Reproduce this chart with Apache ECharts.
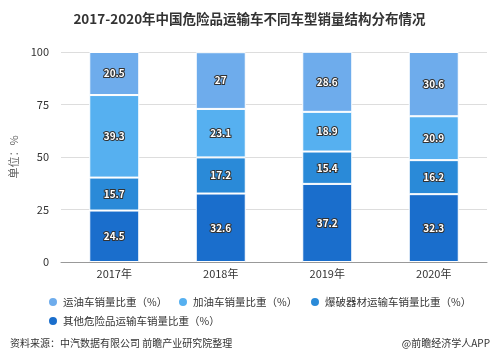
<!DOCTYPE html>
<html><head><meta charset="utf-8">
<script src="https://cdn.jsdelivr.net/npm/echarts@6/dist/echarts.min.js"></script>
<style>html,body{margin:0;padding:0;background:#fff}#c{width:499px;height:361px}</style>
</head><body><div id="c"></div>
<script>
const categories = ['2017年','2018年','2019年','2020年'];
const seriesNames = ['运油车销量比重（%）','加油车销量比重（%）','爆破器材运输车销量比重（%）','其他危险品运输车销量比重（%）'];
const yunyou = [20.5, 27, 28.6, 30.6];
const jiayou = [39.3, 23.1, 18.9, 20.9];
const baopo = [15.7, 17.2, 15.4, 16.2];
const qita = [24.5, 32.6, 37.2, 32.3];
const colors = ['#6eacec','#56b0f0','#2a8ad8','#1a6ecc'];

const chart = echarts.init(document.getElementById('c'));
const ff = '"Noto Sans CJK SC", sans-serif';
function mk(name, data, color){
  return {name, type:'bar', stack:'a', data, barWidth:50,
    itemStyle:{color, borderColor:'#fff', borderWidth:1},
    label:{show:true, position:'inside', color:'#fff', fontSize:10, fontWeight:'bold', fontFamily:ff,
      textBorderColor:'#333', textBorderWidth:2}};
}
function lg(name, left, top){
  return {data:[name], left, top, icon:'circle', itemWidth:10, itemHeight:10,
    textStyle:{fontSize:10.5, color:'#333', fontFamily:ff}};
}
chart.setOption({
  animation:false,
  title:[{text:'2017-2020年中国危险品运输车不同车型销量结构分布情况', left:'center', top:7,
    textStyle:{fontSize:13.5, fontWeight:'bold', color:'#333', fontFamily:ff}},
    {text:'资料来源：中汽数据有限公司 前瞻产业研究院整理', left:5, top:333, textStyle:{fontSize:10, fontWeight:'normal', color:'#333', fontFamily:ff}},
    {text:'@前瞻经济学人APP', right:4, top:333, textStyle:{fontSize:10, fontWeight:'normal', color:'#333', fontFamily:ff}}],
  grid:{left:61, right:12, top:52, bottom:99},
  legend:[lg(seriesNames[0],42,291), lg(seriesNames[1],172,291), lg(seriesNames[2],304,291), lg(seriesNames[3],42,310)],
  xAxis:{type:'category', data:categories,
    axisLine:{lineStyle:{color:'#999'}}, axisTick:{alignWithLabel:true, length:4, lineStyle:{color:'#999'}},
    axisLabel:{color:'#333', fontSize:11, fontFamily:ff, margin:6}},
  yAxis:{type:'value', min:0, max:100, interval:25, name:'单位：%', nameLocation:'middle', nameGap:42,
    nameRotate:90, nameTextStyle:{color:'#666', fontSize:11, fontFamily:ff},
    axisLabel:{color:'#333', fontSize:11, fontFamily:ff, margin:12},
    splitLine:{lineStyle:{color:'#ddd'}}, axisLine:{show:false}, axisTick:{show:false}},
  series:[mk(seriesNames[3], qita, colors[3]), mk(seriesNames[2], baopo, colors[2]),
          mk(seriesNames[1], jiayou, colors[1]), mk(seriesNames[0], yunyou, colors[0])]
});
</script></body></html>
